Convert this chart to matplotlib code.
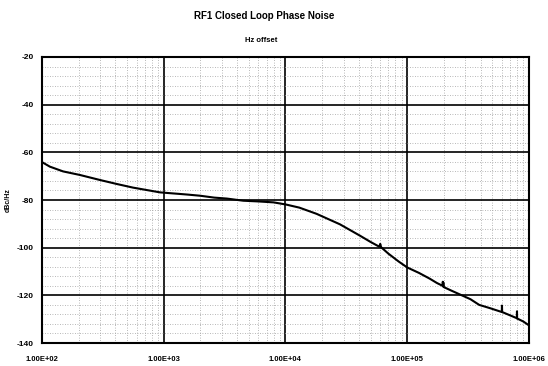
"""RF1 closed loop phase noise"""

import matplotlib
matplotlib.use("Agg")
import matplotlib.pyplot as plt
import numpy as np
from matplotlib.ticker import FixedLocator, LogLocator, NullFormatter

plt.rcParams["font.family"] = ["Liberation Sans", "DejaVu Sans"]
plt.rcParams["font.weight"] = "bold"
plt.rcParams["axes.unicode_minus"] = False

# curve (Hz offset, dBc/Hz), spurs included
freq = [100, 116, 149, 205, 299, 413, 559, 932, 1550, 1985, 2600, 3300,
        4500, 6000, 8000, 10100, 13000, 18000, 22000, 28000, 35000, 41000,
        50000, 59000, 60000, 61000, 70000, 85000, 100000, 125000, 153000,
        175000, 195000, 196000, 197000, 198000, 199000, 230000, 270000,
        330000, 390000, 480000, 598000, 600000, 602000, 700000, 795000,
        797000, 799000, 900000, 1000000]
noise = [-64.1, -66.0, -68.0, -69.5, -71.6, -73.3, -74.8, -76.8, -77.7,
         -78.2, -79.0, -79.4, -80.3, -80.6, -81.0, -81.9, -83.2, -85.8,
         -87.8, -90.2, -93.0, -95.0, -97.6, -99.6, -98.4, -99.8, -102.5,
         -105.8, -108.3, -110.6, -113.0, -114.8, -116.0, -114.3, -116.2,
         -114.6, -116.5, -118.0, -119.6, -121.6, -124.0, -125.4, -127.0,
         -124.3, -127.0, -128.4, -129.6, -126.7, -129.7, -131.0, -132.6]

y_ticks = [-20, -40, -60, -80, -100, -120, -140]
x_ticks = [1e2, 1e3, 1e4, 1e5, 1e6]
x_labels = ["1.00E+02", "1.00E+03", "1.00E+04", "1.00E+05", "1.00E+06"]

fig = plt.figure(figsize=(5.48, 3.66), dpi=100)
ax = fig.add_axes([0.0766, 0.0628, 0.8887, 0.7815])

ax.plot(freq, noise, color="black", linewidth=1.5, zorder=3)

ax.set_xscale("log")
ax.set_xlim(1e2, 1e6)
ax.set_ylim(-140, -20)

ax.xaxis.set_major_locator(FixedLocator(x_ticks))
ax.set_xticklabels(x_labels)
ax.xaxis.set_minor_locator(LogLocator(base=10, subs=np.arange(2, 10)))
ax.xaxis.set_minor_formatter(NullFormatter())
ax.yaxis.set_major_locator(FixedLocator(y_ticks))
ax.yaxis.set_minor_locator(FixedLocator(np.arange(-140, -20, 4)))

ax.grid(True, which="major", color="black", linewidth=1.2)
ax.grid(True, which="minor", color="#a0a0a0", linestyle=(0, (1, 2)),
        linewidth=0.6)

ax.tick_params(which="both", length=0)
ax.tick_params(axis="x", labelsize=5.5, pad=9)
ax.tick_params(axis="y", labelsize=6, pad=6)
for s in ax.spines.values():
    s.set_linewidth(1.5)

ax.set_ylabel("dBc/Hz", fontsize=5, fontweight="bold")
ax.yaxis.set_label_coords(-0.062, 0.5)
fig.text(0.482, 0.955, "RF1 Closed Loop Phase Noise", ha="center", va="center",
         fontsize=7, fontweight="bold")
fig.text(0.477, 0.89, "Hz offset", ha="center", va="center",
         fontsize=5.5, fontweight="bold")

fig.savefig("out.png", dpi=100)
